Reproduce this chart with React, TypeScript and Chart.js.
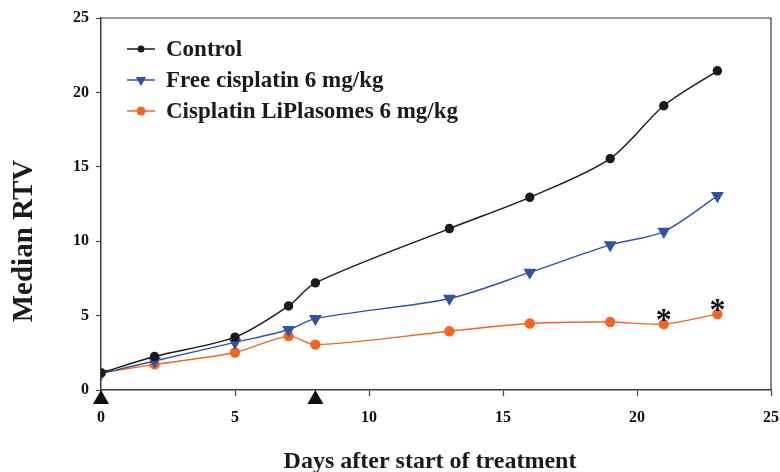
import React, { useEffect, useRef } from "react";
import { Chart, registerables } from "chart.js";

Chart.register(...registerables);

const days = [0, 2, 5, 7, 8, 13, 16, 19, 21, 23];
const controlRTV = [1.15, 2.25, 3.55, 5.65, 7.2, 10.85, 12.95, 15.55, 19.1, 21.45];
const freeCisplatinRTV = [1.1, 1.95, 3.2, 4.05, 4.8, 6.15, 7.9, 9.75, 10.65, 13.05];
const liplasomeRTV = [1.15, 1.72, 2.52, 3.62, 3.05, 3.95, 4.47, 4.57, 4.43, 5.1];
const seriesNames = ["Control", "Free cisplatin 6 mg/kg", "Cisplatin LiPlasomes 6 mg/kg"];
const seriesColors = ["#1a1a1a", "#3153a5", "#f26522"];
const treatmentDays = [0, 8];
const significantDays = [21, 23];
const axisTicks = [0, 5, 10, 15, 20, 25];
const xTitle = "Days after start of treatment";
const yTitle = "Median RTV";

const FONT = "'Liberation Serif', 'Times New Roman', serif";

export default function App() {
  const ref = useRef<HTMLCanvasElement | null>(null);

  useEffect(() => {
    document.body.style.margin = "0";
    const canvas = ref.current;
    if (!canvas) return;

    const toPts = (vals: number[]) => days.map((d, i) => ({ x: d, y: vals[i] }));

    const overlay = {
      id: "overlay",
      afterDatasetsDraw(chart: any) {
        const { ctx, chartArea, scales } = chart;
        const xs = scales.x;
        const ys = scales.y;
        ctx.save();
        // top and right border
        ctx.strokeStyle = "#3a3a3a";
        ctx.lineWidth = 1.2;
        ctx.beginPath();
        ctx.moveTo(chartArea.left, chartArea.top);
        ctx.lineTo(chartArea.right, chartArea.top);
        ctx.lineTo(chartArea.right, chartArea.bottom);
        ctx.stroke();

        // treatment triangles
        ctx.fillStyle = "#111";
        treatmentDays.forEach((d) => {
          const px = xs.getPixelForValue(d);
          const py = ys.getPixelForValue(0);
          ctx.beginPath();
          ctx.moveTo(px, py);
          ctx.lineTo(px + 8, py + 14);
          ctx.lineTo(px - 8, py + 14);
          ctx.closePath();
          ctx.fill();
        });

        // asterisks
        ctx.fillStyle = "#111";
        ctx.font = `bold 32px ${FONT}`;
        ctx.textAlign = "center";
        ctx.textBaseline = "alphabetic";
        significantDays.forEach((d) => {
          const i = days.indexOf(d);
          const px = xs.getPixelForValue(d);
          const py = ys.getPixelForValue(liplasomeRTV[i]);
          ctx.fillText("*", px, py + 6);
        });

        // legend
        const rows = [49, 80, 111];
        const styles = ["circle", "triangle", "circle"];
        const radii = [3.5, 6, 4.5];
        ctx.font = `bold 23px ${FONT}`;
        ctx.textAlign = "left";
        ctx.textBaseline = "middle";
        rows.forEach((y, i) => {
          ctx.strokeStyle = seriesColors[i];
          ctx.lineWidth = 1.5;
          ctx.beginPath();
          ctx.moveTo(127, y);
          ctx.lineTo(155, y);
          ctx.stroke();
          ctx.fillStyle = seriesColors[i];
          if (styles[i] === "circle") {
            ctx.beginPath();
            ctx.arc(141, y, radii[i], 0, Math.PI * 2);
            ctx.fill();
          } else {
            const r = radii[i];
            ctx.beginPath();
            ctx.moveTo(141, y + r);
            ctx.lineTo(141 + r * 0.866, y - r / 2);
            ctx.lineTo(141 - r * 0.866, y - r / 2);
            ctx.closePath();
            ctx.fill();
          }
          ctx.fillStyle = "#1a1a1a";
          ctx.fillText(seriesNames[i], 166, y + 1);
        });

        // axis titles
        ctx.fillStyle = "#1a1a1a";
        ctx.textAlign = "center";
        ctx.textBaseline = "alphabetic";
        ctx.font = `bold 24px ${FONT}`;
        ctx.fillText(xTitle, 430, 468);
        ctx.translate(32, 241);
        ctx.rotate(-Math.PI / 2);
        ctx.font = `bold 29px ${FONT}`;
        ctx.fillText(yTitle, 0, 0);
        ctx.restore();
      },
    };

    const chart = new Chart(canvas, {
      type: "line",
      data: {
        datasets: [
          {
            label: seriesNames[0],
            data: toPts(controlRTV),
            borderColor: seriesColors[0],
            backgroundColor: seriesColors[0],
            borderWidth: 1.4,
            pointRadius: 4,
            pointStyle: "circle",
            tension: 0.3,
          },
          {
            label: seriesNames[1],
            data: toPts(freeCisplatinRTV),
            borderColor: seriesColors[1],
            backgroundColor: seriesColors[1],
            borderWidth: 1.4,
            pointRadius: 6,
            pointStyle: "triangle",
            pointRotation: 180,
            tension: 0.3,
          },
          {
            label: seriesNames[2],
            data: toPts(liplasomeRTV),
            borderColor: seriesColors[2],
            backgroundColor: seriesColors[2],
            borderWidth: 1.4,
            pointRadius: 4.5,
            pointStyle: "circle",
            tension: 0.3,
          },
        ],
      },
      options: {
        animation: false,
        responsive: false,
        maintainAspectRatio: false,
        layout: { padding: { top: 18, right: 9, left: 0, bottom: 0 } },
        plugins: { legend: { display: false }, tooltip: { enabled: false } },
        scales: {
          x: {
            type: "linear",
            min: 0,
            max: 25,
            afterBuildTicks: (s: any) => {
              s.ticks = axisTicks.map((v) => ({ value: v }));
            },
            afterFit: (s: any) => {
              s.height = 82;
              s.paddingRight = 0;
              s.paddingLeft = 0;
            },
            grid: { display: true, drawOnChartArea: false, drawTicks: true, tickLength: 6, color: "#444", tickWidth: 1.2 },
            border: { display: true, color: "#3a3a3a", width: 1.5 },
            ticks: { color: "#111", font: { family: FONT, size: 16, weight: "bold" }, padding: 12, maxRotation: 0 },
          },
          y: {
            type: "linear",
            min: 0,
            max: 25,
            afterBuildTicks: (s: any) => {
              s.ticks = axisTicks.map((v) => ({ value: v }));
            },
            afterFit: (s: any) => {
              s.width = 101;
              s.paddingTop = 0;
              s.paddingBottom = 0;
            },
            grid: { display: true, drawOnChartArea: false, drawTicks: true, tickLength: 5, color: "#444", tickWidth: 1.2 },
            border: { display: true, color: "#3a3a3a", width: 1.5 },
            ticks: { color: "#111", font: { family: FONT, size: 16, weight: "bold" }, padding: 7 },
          },
        },
      },
      plugins: [overlay],
    });

    return () => chart.destroy();
  }, []);

  return (
    <div style={{ position: "relative", width: 780, height: 472 }}>
      <canvas ref={ref} width={780} height={472} style={{ width: 780, height: 472, display: "block" }} />
    </div>
  );
}
